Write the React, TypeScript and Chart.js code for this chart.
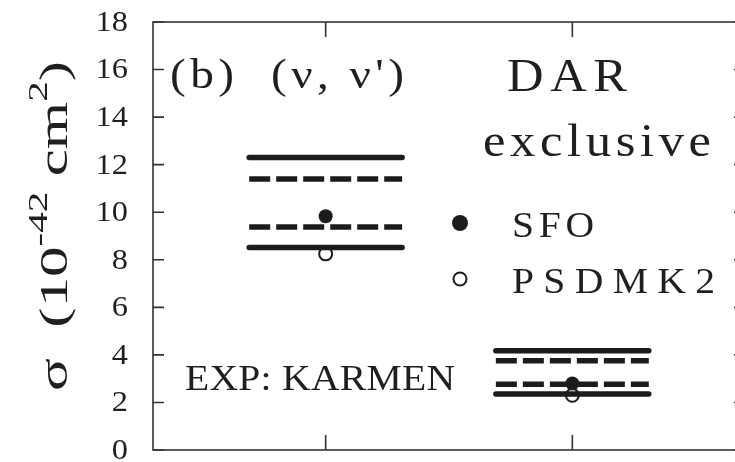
import React, { useEffect, useRef } from 'react';
import { Chart, registerables } from 'chart.js';
Chart.register(...registerables);

// ---- data ----
const categories = ["(ν, ν')", 'DAR exclusive'];
const categoryX = [1, 2];
const expSolidUpper = [12.3, 4.17];
const expDashedUpper = [11.4, 3.75];
const expDashedLower = [9.38, 2.77];
const expSolidLower = [8.52, 2.35];
const sfoValues = [9.83, 2.8];
const psdmk2Values = [8.25, 2.3];
const yTickValues = [0, 2, 4, 6, 8, 10, 12, 14, 16, 18];
const yTickLabels = ['0', '2', '4', '6', '8', '10', '12', '14', '16', '18'];

const FAMILY = '"Liberation Serif"';
const INK = '#1c1c1c';
const TEXT = '#1f1f1f';
const HALF = 0.31;

function fitText(ctx: CanvasRenderingContext2D, text: string, x: number, y: number, size: number, target: number, stretch = 1.1) {
  ctx.save();
  ctx.font = `${size}px ${FAMILY}`;
  ctx.textAlign = 'left';
  ctx.textBaseline = 'alphabetic';
  ctx.fillStyle = TEXT;
  const base = ctx.measureText(text).width;
  const w = base * stretch;
  const n = Array.from(text).length;
  ctx.translate(x, y);
  if (target > w && n > 1) {
    ctx.scale(stretch, 1);
    const gap = (target - w) / (n - 1) / stretch;
    let cx = 0;
    Array.from(text).forEach((ch) => {
      ctx.fillText(ch, cx, 0);
      cx += ctx.measureText(ch).width + gap;
    });
  } else {
    ctx.scale(target / base, 1);
    ctx.fillText(text, 0, 0);
  }
  ctx.restore();
}

const decorPlugin = {
  id: 'decor',
  afterDraw(chart: any) {
    const ctx: CanvasRenderingContext2D = chart.ctx;
    const { left, right, top, bottom } = chart.chartArea;
    const xs = chart.scales.x;
    const ys = chart.scales.y;
    ctx.save();
    ctx.strokeStyle = '#333';
    ctx.lineWidth = 1.6;
    ctx.strokeRect(left, top, right - left, bottom - top);
    yTickValues.forEach((v) => {
      const py = ys.getPixelForValue(v);
      ctx.beginPath();
      ctx.moveTo(left, py);
      ctx.lineTo(left + 11, py);
      ctx.moveTo(right, py);
      ctx.lineTo(right - 11, py);
      ctx.stroke();
    });
    categoryX.forEach((c) => {
      const px = xs.getPixelForValue(c);
      ctx.beginPath();
      ctx.moveTo(px, bottom);
      ctx.lineTo(px, bottom - 15);
      ctx.moveTo(px, top);
      ctx.lineTo(px, top + 15);
      ctx.stroke();
    });
    // y tick labels
    yTickValues.forEach((v, i) => {
      ctx.save();
      ctx.font = `30px ${FAMILY}`;
      ctx.fillStyle = TEXT;
      ctx.textAlign = 'right';
      ctx.textBaseline = 'middle';
      ctx.translate(left - 25, ys.getPixelForValue(v) + 1);
      ctx.scale(1.08, 1);
      ctx.fillText(yTickLabels[i], 0, 0);
      ctx.restore();
    });
    // y title with superscripts
    ctx.save();
    ctx.translate(44, 226);
    ctx.rotate(-Math.PI / 2);
    ctx.fillStyle = TEXT;
    const parts: [string, number, number][] = [
      ['σ  (10', 40, 0],
      ['-42', 27, -16],
      [' cm', 40, 0],
      ['2', 27, -16],
      [')', 40, 0],
    ];
    let total = 0;
    parts.forEach(([t, s]) => {
      ctx.font = `${s}px ${FAMILY}`;
      total += ctx.measureText(t).width;
    });
    const k = 330 / total;
    ctx.scale(k, 1);
    let cx = -total / 2;
    ctx.textAlign = 'left';
    ctx.textBaseline = 'middle';
    parts.forEach(([t, s, dy]) => {
      ctx.font = `${s}px ${FAMILY}`;
      ctx.fillText(t, cx, 12 + dy);
      cx += ctx.measureText(t).width;
    });
    ctx.restore();
    // annotation texts
    fitText(ctx, "(b)  (ν, ν')", 170, 88, 43, 234);
    fitText(ctx, 'DAR', 507, 91, 46, 120);
    fitText(ctx, 'exclusive', 483, 156, 46, 228);
    fitText(ctx, 'EXP: KARMEN', 185, 390, 36, 270);
    // legend
    ctx.fillStyle = INK;
    ctx.beginPath();
    ctx.arc(460, 223, 8, 0, Math.PI * 2);
    ctx.fill();
    ctx.beginPath();
    ctx.strokeStyle = INK;
    ctx.lineWidth = 2;
    ctx.arc(460, 279, 6.5, 0, Math.PI * 2);
    ctx.stroke();
    fitText(ctx, 'SFO', 512, 237, 36, 82);
    fitText(ctx, 'PSDMK2', 512, 293, 36, 203);
    ctx.restore();
  },
};

export default function App() {
  const ref = useRef<HTMLCanvasElement>(null);
  useEffect(() => {
    if (!ref.current) return;
    const datasets: any[] = [];
    const lineSets: [number[], boolean][] = [
      [expSolidUpper, false],
      [expDashedUpper, true],
      [expDashedLower, true],
      [expSolidLower, false],
    ];
    categoryX.forEach((c, gi) => {
      lineSets.forEach(([vals, dashed]) => {
        datasets.push({
          label: `KARMEN ${categories[gi]}`,
          data: [
            { x: c - HALF, y: vals[gi] },
            { x: c + HALF, y: vals[gi] },
          ],
          showLine: true,
          borderColor: INK,
          borderWidth: 5.5,
          borderDash: dashed ? [21, 6] : [],
          borderCapStyle: dashed ? 'butt' : 'round',
          pointRadius: 0,
          order: 0,
        });
      });
    });
    datasets.push({
      label: 'SFO',
      data: categoryX.map((c, i) => ({ x: c, y: sfoValues[i] })),
      showLine: false,
      pointRadius: 7,
      pointBackgroundColor: INK,
      pointBorderColor: INK,
      pointBorderWidth: 0,
      order: 1,
    });
    datasets.push({
      label: 'PSDMK2',
      data: categoryX.map((c, i) => ({ x: c, y: psdmk2Values[i] })),
      showLine: false,
      pointRadius: 6.5,
      pointBackgroundColor: '#fff',
      pointBorderColor: INK,
      pointBorderWidth: 2,
      order: 2,
    });
    const chart = new Chart(ref.current, {
      type: 'scatter',
      data: { datasets },
      options: {
        animation: false,
        responsive: false,
        events: [],
        layout: { padding: { top: 22, right: 15, bottom: 12, left: 0 } },
        plugins: { legend: { display: false }, tooltip: { enabled: false } },
        scales: {
          x: { type: 'linear', min: 0.3, max: 2.7, display: false },
          y: {
            type: 'linear',
            min: 0,
            max: 18,
            grid: { display: false },
            border: { display: false },
            ticks: { display: false, stepSize: 2 },
            afterFit: (s: any) => {
              s.width = 153;
            },
          },
        },
      },
      plugins: [decorPlugin],
    });
    return () => chart.destroy();
  }, []);
  return (
    <div style={{ position: 'fixed', left: 0, top: 0, width: 735, height: 462, overflow: 'hidden', background: '#fff' }}>
      <canvas ref={ref} width={760} height={462} style={{ display: 'block' }} />
    </div>
  );
}
